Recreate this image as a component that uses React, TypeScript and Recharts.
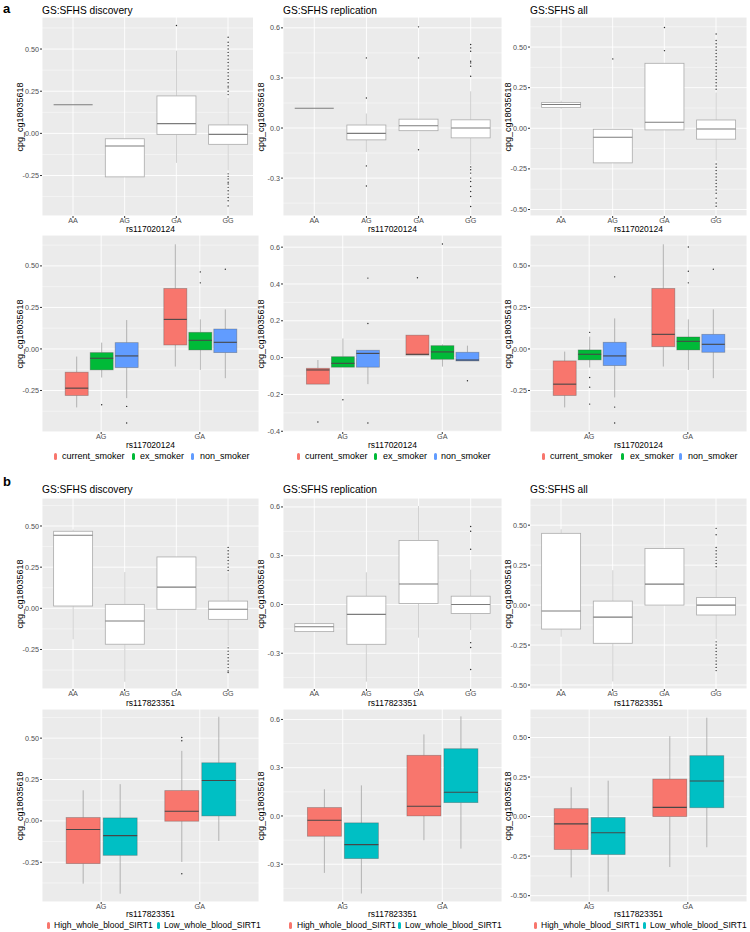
import React from 'react';
import { ComposedChart, Bar, XAxis, YAxis, CartesianGrid } from 'recharts';

const FONT = '"Liberation Sans", Arial, Helvetica, sans-serif';

// categories
const catsSnp = ['AA', 'AG', 'GA', 'GG'];
const catsHet = ['AG', 'GA'];

// tick labels
const ticksQ = [-0.5, -0.25, 0, 0.25, 0.5];
const ticksT = [-0.3, 0, 0.3, 0.6];
const ticksF = [-0.4, -0.2, 0, 0.2, 0.4, 0.6];

// box stats: [lower whisker, q1, median, q3, upper whisker]
// a: rs117020124, all genotypes
const aDisc = [
  [0.17, 0.17, 0.17, 0.17, 0.17],
  [-0.258, -0.258, -0.075, -0.032, -0.032],
  [-0.175, -0.006, 0.058, 0.222, 0.49],
  [-0.22, -0.065, -0.006, 0.05, 0.21],
];
const aDiscOut = [
  [],
  [],
  [0.64],
  [0.23, 0.25, 0.27, 0.28, 0.3, 0.32, 0.34, 0.36, 0.38, 0.4, 0.42, 0.44, 0.46, 0.48, 0.5, 0.52, 0.54, 0.57,
    -0.24, -0.255, -0.27, -0.29, -0.3, -0.32, -0.34, -0.36, -0.38, -0.4, -0.43],
];
const aRep = [
  [0.118, 0.118, 0.118, 0.118, 0.118],
  [-0.144, -0.071, -0.032, 0.018, 0.087],
  [-0.016, -0.016, 0.014, 0.053, 0.053],
  [-0.22, -0.059, 0.0, 0.049, 0.22],
];
const aRepOut = [
  [],
  [0.18, 0.42, -0.227, -0.347],
  [0.606, 0.42, -0.13],
  [0.31, 0.37, 0.39, 0.4, 0.46, 0.48, 0.5, -0.233, -0.25, -0.27, -0.3, -0.32, -0.35, -0.38, -0.41, -0.47],
];
const aAll = [
  [0.12, 0.128, 0.146, 0.159, 0.17],
  [-0.213, -0.213, -0.055, -0.006, -0.006],
  [-0.01, -0.01, 0.037, 0.4, 0.4],
  [-0.2, -0.067, -0.004, 0.051, 0.22],
];
const aAllOut = [
  [],
  [0.427],
  [0.478, 0.62],
  [0.24, 0.26, 0.28, 0.3, 0.32, 0.34, 0.36, 0.38, 0.4, 0.42, 0.44, 0.46, 0.48, 0.5, 0.52, 0.54, 0.58,
    -0.22, -0.24, -0.26, -0.28, -0.3, -0.32, -0.34, -0.36, -0.38, -0.4, -0.43, -0.46, -0.48],
];

// a: by smoking status (AG, GA)
const aSmDiscCur = [[-0.352, -0.28, -0.236, -0.14, -0.046], [-0.106, 0.024, 0.178, 0.364, 0.63]];
const aSmDiscCurOut = [[], []];
const aSmDiscEx = [[-0.172, -0.126, -0.056, -0.022, 0.038], [-0.126, -0.006, 0.052, 0.1, 0.178]];
const aSmDiscExOut = [[-0.336], [0.464, 0.398]];
const aSmDiscNon = [[-0.296, -0.112, -0.042, 0.038, 0.174], [-0.176, -0.022, 0.04, 0.12, 0.238]];
const aSmDiscNonOut = [[-0.346, -0.446], [0.48]];

const aSmRepCur = [[-0.144, -0.144, -0.067, -0.058, -0.013], [0.014, 0.014, 0.018, 0.122, 0.122]];
const aSmRepCurOut = [[-0.35], [0.434]];
const aSmRepEx = [[-0.052, -0.052, -0.031, 0.005, 0.104], [-0.049, -0.009, 0.031, 0.065, 0.072]];
const aSmRepExOut = [[-0.229], [0.617]];
const aSmRepNon = [[-0.144, -0.052, 0.023, 0.04, 0.04], [-0.018, -0.018, -0.013, 0.029, 0.065]];
const aSmRepNonOut = [[0.432, 0.185, -0.355], [-0.126]];

const aSmAllCur = [[-0.352, -0.28, -0.212, -0.072, -0.016], [-0.106, 0.014, 0.088, 0.364, 0.63]];
const aSmAllCurOut = [[], []];
const aSmAllEx = [[-0.112, -0.066, -0.032, -0.006, 0.074], [-0.126, -0.006, 0.046, 0.072, 0.178]];
const aSmAllExOut = [[0.1, -0.172, -0.23, -0.332], [0.614, 0.468, 0.398]];
const aSmAllNon = [[-0.292, -0.1, -0.042, 0.04, 0.184], [-0.176, -0.02, 0.028, 0.088, 0.238]];
const aSmAllNonOut = [[0.434, -0.35, -0.446], [0.48]];

// b: rs117823351, all genotypes
const bDisc = [
  [-0.188, 0.014, 0.444, 0.468, 0.478],
  [-0.446, -0.218, -0.077, 0.024, 0.22],
  [-0.006, -0.006, 0.129, 0.312, 0.312],
  [-0.228, -0.067, -0.006, 0.044, 0.216],
];
const bDiscOut = [
  [],
  [],
  [],
  [0.23, 0.25, 0.27, 0.29, 0.31, 0.33, 0.35, 0.37,
    -0.24, -0.26, -0.28, -0.3, -0.32, -0.34, -0.36, -0.38, -0.39],
];
const bRep = [
  [-0.167, -0.167, -0.137, -0.118, -0.118],
  [-0.475, -0.245, -0.061, 0.051, 0.198],
  [-0.204, 0.006, 0.126, 0.394, 0.606],
  [-0.157, -0.055, 0.0, 0.051, 0.214],
];
const bRepOut = [[], [], [], [0.34, 0.45, 0.48, -0.235, -0.265, -0.4]];
const bAll = [
  [-0.198, -0.15, -0.037, 0.449, 0.474],
  [-0.478, -0.239, -0.075, 0.025, 0.218],
  [0.0, 0.0, 0.131, 0.354, 0.354],
  [-0.212, -0.062, 0.0, 0.048, 0.225],
];
const bAllOut = [
  [],
  [],
  [],
  [0.24, 0.26, 0.28, 0.3, 0.32, 0.34, 0.36, 0.44, 0.48,
    -0.23, -0.25, -0.27, -0.29, -0.31, -0.33, -0.35, -0.37, -0.39, -0.41],
];

// b: by whole blood SIRT1 (AG, GA)
const bSiDiscHigh = [[-0.379, -0.258, -0.052, 0.02, 0.185], [-0.248, -0.002, 0.058, 0.183, 0.423]];
const bSiDiscHighOut = [[], [0.504, 0.484, -0.319]];
const bSiDiscLow = [[-0.44, -0.208, -0.089, 0.018, 0.222], [-0.121, 0.03, 0.244, 0.351, 0.629]];
const bSiDiscLowOut = [[], []];
const bSiRepHigh = [[-0.354, -0.126, -0.027, 0.052, 0.166], [-0.151, 0.0, 0.06, 0.377, 0.507]];
const bSiRepHighOut = [[], []];
const bSiRepLow = [[-0.482, -0.265, -0.178, -0.043, 0.19], [-0.203, 0.083, 0.147, 0.418, 0.619]];
const bSiRepLowOut = [[], []];
const bSiAllHigh = [[-0.385, -0.208, -0.046, 0.05, 0.185], [-0.319, 0.0, 0.058, 0.237, 0.508]];
const bSiAllHighOut = [[], []];
const bSiAllLow = [[-0.475, -0.24, -0.102, -0.006, 0.227], [-0.194, 0.056, 0.225, 0.385, 0.625]];
const bSiAllLowOut = [[], []];

const RED = '#F8766D';
const GREEN = '#00BA38';
const BLUE = '#619CFF';
const TEAL = '#00BFC4';

type Series = { stats: number[][]; outs: number[][]; fill: string };

const minorOf = (ticks: number[], dom: number[]) => {
  const step = ticks[1] - ticks[0];
  const res: number[] = [];
  for (let v = ticks[0] - step / 2; v < dom[1]; v += step) {
    if (v > dom[0]) res.push(+v.toFixed(4));
  }
  return res;
};

const boxShape = (k: number, dom: number[], white: boolean) => (p: any) => {
  const { x, y, width, height, payload } = p;
  const s: number[] = payload['s' + k];
  const out: number[] = payload['o' + k] || [];
  const top = Math.min(y, y + height);
  const H = Math.abs(height);
  const py = (v: number) => top + ((dom[1] - v) / (dom[1] - dom[0])) * H;
  const cx = x + width / 2;
  const whisk = white ? '#c4c4c4' : '#a3a3a3';
  const edge = white ? '#ababab' : 'rgba(70,70,70,0.4)';
  const med = white ? '#7c7c7c' : '#474747';
  return (
    <g>
      <line x1={cx} x2={cx} y1={py(s[4])} y2={py(s[3])} stroke={whisk} strokeWidth={0.8} />
      <line x1={cx} x2={cx} y1={py(s[1])} y2={py(s[0])} stroke={whisk} strokeWidth={0.8} />
      <rect x={x} y={py(s[3])} width={width} height={py(s[1]) - py(s[3])}
        fill={white ? '#ffffff' : payload['f' + k]} stroke={edge} strokeWidth={0.8} />
      <line x1={x} x2={x + width} y1={py(s[2])} y2={py(s[2])} stroke={med} strokeWidth={1.1} />
      {out.map((v, i) => (
        <circle key={i} cx={cx} cy={py(v)} r={0.7} fill="#2a2a2a" />
      ))}
    </g>
  );
};

type PanelProps = {
  left: number; top: number; w: number; h: number; clip?: number;
  cats: string[]; series: Series[]; dom: number[]; ticks: number[]; dec: number;
  gap: string; barGap: number; white: boolean;
};

const YW = 40;
const XH = 12;

const Panel = ({ left, top, w, h, clip, cats, series, dom, ticks, dec, gap, barGap, white }: PanelProps) => {
  const rows = cats.map((c, i) => {
    const r: any = { cat: c };
    series.forEach((s, k) => {
      r['rng' + k] = dom;
      r['s' + k] = s.stats[i];
      r['o' + k] = s.outs[i];
      r['f' + k] = s.fill;
    });
    return r;
  });
  const pad = (0.1 * w) / (cats.length + 0.2);
  const right = clip ?? left + w;
  const tickStyle = { fontSize: 7.2, fill: '#4d4d4d', fontFamily: FONT };
  return (
    <div style={{ position: 'absolute', left: left - YW, top, width: right - (left - YW), height: h + XH, overflow: 'hidden' }}>
      <ComposedChart width={YW + w} height={h + XH} data={rows}
        margin={{ top: 0, right: 0, bottom: 0, left: 0 }} barCategoryGap={gap} barGap={barGap}>
        <XAxis dataKey="cat" type="category" height={XH} padding={{ left: pad, right: pad }}
          tickSize={2} tickMargin={0} axisLine={false} tickLine={{ stroke: '#333' }} tick={tickStyle} interval={0} />
        <YAxis yAxisId="main" type="number" width={YW} domain={dom} ticks={ticks} allowDataOverflow
          tickFormatter={(v: number) => v.toFixed(dec)} tickSize={2} tickMargin={1}
          axisLine={false} tickLine={{ stroke: '#333' }} tick={tickStyle} />
        <YAxis yAxisId="minor" type="number" hide domain={dom} ticks={minorOf(ticks, dom)} allowDataOverflow />
        <CartesianGrid yAxisId="minor" vertical={false} fill="#EBEBEB" fillOpacity={1} stroke="#ffffff" strokeWidth={0.45} />
        <CartesianGrid yAxisId="main" stroke="#ffffff" strokeWidth={0.9} />
        {series.map((s, k) => (
          <Bar key={k} yAxisId="main" dataKey={'rng' + k} shape={boxShape(k, dom, white)} isAnimationActive={false} />
        ))}
      </ComposedChart>
    </div>
  );
};

const T = ({ x, y, size, children, rot, bold, anchor }: any) => (
  <div style={{
    position: 'absolute', left: x, top: y, fontSize: size, fontFamily: FONT, whiteSpace: 'nowrap',
    lineHeight: 1, color: '#000', fontWeight: bold ? 700 : 400,
    transform: rot ? 'translate(-50%,-50%) rotate(-90deg)' : anchor === 'start' ? 'translate(0,-50%)' : 'translate(-50%,-50%)',
  }}>{children}</div>
);

const Key = ({ x, y, color }: any) => (
  <div style={{ position: 'absolute', left: x - 1.5, top: y - 3.5, width: 3, height: 7, background: color, borderRadius: 1.5 }} />
);

const cols = [
  { left: 42, w: 217 },
  { left: 283, w: 219 },
  { left: 530, w: 217 },
];
const rowsY = [
  { top: 17, h: 199 },
  { top: 235, h: 197 },
  { top: 498, h: 191 },
  { top: 709, h: 193 },
];

export default function App() {
  const one = (stats: number[][], outs: number[][]): Series[] => [{ stats, outs, fill: '#fff' }];
  const r1 = [
    { s: one(aDisc, aDiscOut), dom: [-0.49, 0.69], ticks: ticksQ.slice(1), dec: 2 },
    { s: one(aRep, aRepOut), dom: [-0.527, 0.665], ticks: ticksT, dec: 1 },
    { s: one(aAll, aAllOut), dom: [-0.54, 0.685], ticks: ticksQ, dec: 2 },
  ];
  const r2 = [
    { s: [{ stats: aSmDiscCur, outs: aSmDiscCurOut, fill: RED }, { stats: aSmDiscEx, outs: aSmDiscExOut, fill: GREEN }, { stats: aSmDiscNon, outs: aSmDiscNonOut, fill: BLUE }], dom: [-0.5, 0.686], ticks: ticksQ.slice(1), dec: 2 },
    { s: [{ stats: aSmRepCur, outs: aSmRepCurOut, fill: RED }, { stats: aSmRepEx, outs: aSmRepExOut, fill: GREEN }, { stats: aSmRepNon, outs: aSmRepNonOut, fill: BLUE }], dom: [-0.404, 0.666], ticks: ticksF, dec: 1 },
    { s: [{ stats: aSmAllCur, outs: aSmAllCurOut, fill: RED }, { stats: aSmAllEx, outs: aSmAllExOut, fill: GREEN }, { stats: aSmAllNon, outs: aSmAllNonOut, fill: BLUE }], dom: [-0.5, 0.686], ticks: ticksQ.slice(1), dec: 2 },
  ];
  const r3 = [
    { s: one(bDisc, bDiscOut), dom: [-0.49, 0.67], ticks: ticksQ.slice(1), dec: 2 },
    { s: one(bRep, bRepOut), dom: [-0.52, 0.655], ticks: ticksT, dec: 1 },
    { s: one(bAll, bAllOut), dom: [-0.525, 0.67], ticks: ticksQ, dec: 2 },
  ];
  const r4 = [
    { s: [{ stats: bSiDiscHigh, outs: bSiDiscHighOut, fill: RED }, { stats: bSiDiscLow, outs: bSiDiscLowOut, fill: TEAL }], dom: [-0.49, 0.676], ticks: ticksQ.slice(1), dec: 2 },
    { s: [{ stats: bSiRepHigh, outs: bSiRepHighOut, fill: RED }, { stats: bSiRepLow, outs: bSiRepLowOut, fill: TEAL }], dom: [-0.535, 0.665], ticks: ticksT, dec: 1 },
    { s: [{ stats: bSiAllHigh, outs: bSiAllHighOut, fill: RED }, { stats: bSiAllLow, outs: bSiAllLowOut, fill: TEAL }], dom: [-0.54, 0.68], ticks: ticksQ, dec: 2 },
  ];
  const titles = ['GS:SFHS discovery', 'GS:SFHS replication', 'GS:SFHS all'];
  const grid = [
    { row: r1, y: rowsY[0], cats: catsSnp, gap: '12.5%', barGap: 0, white: true, xt: 'rs117020124', xtY: 229 },
    { row: r2, y: rowsY[1], cats: catsHet, gap: '13.5%', barGap: 2, white: false, xt: 'rs117020124', xtY: 444.5 },
    { row: r3, y: rowsY[2], cats: catsSnp, gap: '12.5%', barGap: 0, white: true, xt: 'rs117823351', xtY: 703 },
    { row: r4, y: rowsY[3], cats: catsHet, gap: '14.5%', barGap: 3, white: false, xt: 'rs117823351', xtY: 914 },
  ];
  const smokeLeg = [
    [[55, 62], [133, 140], [192, 200]],
    [[298, 305], [375, 383], [435, 441]],
    [[543, 550], [622, 630], [680, 688]],
  ];
  const sirtLeg = [
    [[48, 54], [158, 164]],
    [[290, 297], [399, 405]],
    [[535, 541], [644, 650]],
  ];
  const smokeNames = ['current_smoker', 'ex_smoker', 'non_smoker'];
  const smokeCols = [RED, GREEN, BLUE];
  const sirtNames = ['High_whole_blood_SIRT1', 'Low_whole_blood_SIRT1'];
  const sirtCols = [RED, TEAL];
  return (
    <div style={{ position: 'absolute', left: 0, top: 0, width: 750, height: 932, background: '#fff', overflow: 'hidden' }}>
      {grid.map((g, ri) =>
        g.row.map((p, ci) => (
          <React.Fragment key={ri + '-' + ci}>
            <Panel left={cols[ci].left} top={g.y.top} w={cols[ci].w} h={g.y.h}
              clip={ri === 0 && ci === 0 ? 253 : undefined}
              cats={g.cats} series={p.s} dom={p.dom} ticks={p.ticks} dec={p.dec}
              gap={g.gap} barGap={g.barGap} white={g.white} />
            <T x={cols[ci].left - 22} y={g.y.top + g.y.h / 2} size={9} rot>cpg_cg18035618</T>
            <T x={cols[ci].left + cols[ci].w / 2} y={g.xtY} size={8.5}>{g.xt}</T>
          </React.Fragment>
        ))
      )}
      {titles.map((t, ci) => (
        <React.Fragment key={'t' + ci}>
          <T x={cols[ci].left} y={11} size={10.2} anchor="start">{t}</T>
          <T x={cols[ci].left} y={490} size={10.2} anchor="start">{t}</T>
        </React.Fragment>
      ))}
      <T x={3} y={8} size={13} bold anchor="start">a</T>
      <T x={3} y={481} size={13} bold anchor="start">b</T>
      {smokeLeg.map((c, ci) =>
        c.map(([kx, tx], j) => (
          <React.Fragment key={'sl' + ci + j}>
            <Key x={kx} y={456} color={smokeCols[j]} />
            <T x={tx} y={456} size={9} anchor="start">{smokeNames[j]}</T>
          </React.Fragment>
        ))
      )}
      {sirtLeg.map((c, ci) =>
        c.map(([kx, tx], j) => (
          <React.Fragment key={'il' + ci + j}>
            <Key x={kx} y={925} color={sirtCols[j]} />
            <T x={tx} y={925} size={8.5} anchor="start">{sirtNames[j]}</T>
          </React.Fragment>
        ))
      )}
    </div>
  );
}
